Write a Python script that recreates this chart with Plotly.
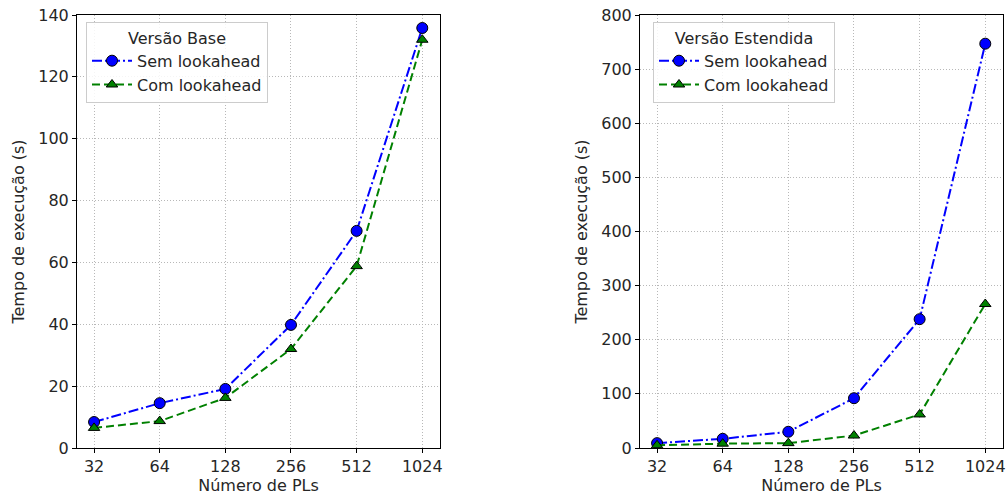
import numpy as np
import plotly.graph_objects as go

pls = [32, 64, 128, 256, 512, 1024]
tick_labels = ["32", "64", "128", "256", "512", "1024"]

base_sem = [8.4, 14.5, 19.1, 39.8, 70.2, 135.8]
base_com = [6.5, 8.7, 16.2, 32.0, 58.8, 132.0]

ext_sem = [9, 17, 30, 92, 238, 747]
ext_com = [5, 8, 9, 23, 62, 266]

FONT = "DejaVu Sans"
TXT = "#262626"
FS = 16
fig = go.Figure()

def add_series(y, name, color, dash, symbol, size, xa, ya, legend):
    fig.add_trace(go.Scatter(
        x=pls, y=y, name=name, mode="lines+markers",
        line=dict(color=color, dash=dash, width=2),
        marker=dict(symbol=symbol, size=size, color=color,
                    line=dict(color="black", width=1)),
        xaxis=xa, yaxis=ya, legend=legend))

DASHDOT = "10px,3px,2px,3px"
DASHED = "8px,4px"
add_series(base_sem, "Sem lookahead", "#0000ff", DASHDOT, "circle", 11, "x", "y", "legend")
add_series(base_com, "Com lookahead", "#008000", DASHED, "triangle-up", 10, "x", "y", "legend")
add_series(ext_sem, "Sem lookahead", "#0000ff", DASHDOT, "circle", 11, "x2", "y2", "legend2")
add_series(ext_com, "Com lookahead", "#008000", DASHED, "triangle-up", 10, "x2", "y2", "legend2")

xr = [np.log10(2 ** 4.74), np.log10(2 ** 10.27)]
ydom = [1 - 448 / 499, 1 - 15 / 499]

axis_common = dict(showline=True, linecolor="black", linewidth=1, mirror=True,
                   ticks="outside", ticklen=4, tickcolor="black", automargin=False,
                   showgrid=True, gridcolor="#b8b8b8", griddash="1px,2px", gridwidth=1,
                   zeroline=False, tickfont=dict(family=FONT, size=FS, color=TXT))

xaxis_cfg = dict(axis_common, type="log", range=xr, tickvals=pls, ticktext=tick_labels,
                 title=dict(text="Número de PLs", font=dict(family=FONT, size=FS, color=TXT), standoff=2))

legend_common = dict(bgcolor="rgba(255,255,255,0.85)", bordercolor="#cccccc", borderwidth=1,
                     font=dict(family=FONT, size=FS, color=TXT),
                     xanchor="left", yanchor="top", tracegroupgap=0, itemwidth=40)

ytitle = dict(text="Tempo de execução (s)", font=dict(family=FONT, size=FS, color=TXT), standoff=9)

fig.update_layout(
    template="none",
    width=1008, height=499,
    margin=dict(l=0, r=0, t=0, b=0),
    paper_bgcolor="white", plot_bgcolor="white",
    font=dict(family=FONT, size=FS, color=TXT),
    showlegend=True,
    xaxis=dict(xaxis_cfg, domain=[77 / 1008, 440 / 1008], anchor="y"),
    yaxis=dict(axis_common, domain=ydom, range=[0, 140], dtick=20, anchor="x", title=ytitle),
    xaxis2=dict(xaxis_cfg, domain=[640 / 1008, 1003 / 1008], anchor="y2"),
    yaxis2=dict(axis_common, domain=ydom, range=[0, 800], dtick=100, anchor="x2", title=ytitle),
    legend=dict(legend_common, x=86 / 1008, y=1 - 22 / 499,
                title=dict(text="Versão Base", side="top center", font=dict(family=FONT, size=FS, color=TXT))),
    legend2=dict(legend_common, x=653 / 1008, y=1 - 22 / 499,
                 title=dict(text="Versão Estendida", side="top center", font=dict(family=FONT, size=FS, color=TXT))),
)

fig.write_html("out.html")
